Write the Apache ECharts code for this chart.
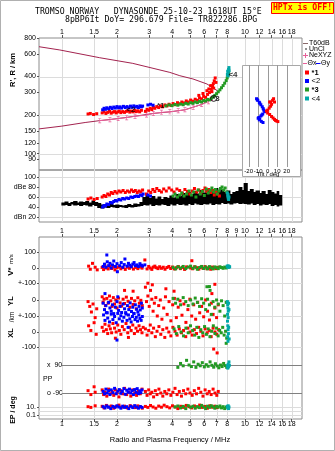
<!DOCTYPE html>
<html>
<head>
<meta charset="utf-8">
<title>Tromso Dynasonde ionogram</title>
<script src="https://cdn.jsdelivr.net/npm/echarts@6.0.0/dist/echarts.min.js"></script>
<style>
html, body { margin: 0; padding: 0; background: #fff; }
#chart { width: 335px; height: 451px; }
</style>
</head>
<body>
<div id="chart"></div>
<script>
const SANS = '"Liberation Sans", Arial, sans-serif';
const MONO = '"DejaVu Sans Mono", monospace';
const LOG = Math.log10;

const RED = '#ff0000', BLUE = '#0000ff', GREEN = '#229a22', CYAN = '#00a8a8';
const PINK = '#e8609a', MAROON = '#a3234f';
const GRID_LINE = '#dcdcdc', FRAME = '#8c8c8c', TICK = '#555';

// ---------- axis ranges and tick labels ----------
const freqRange = [0.75, 20.5];                       // MHz
const freqTicks = [1, 1.5, 2, 3, 4, 5, 6, 7, 8, 10, 12, 14, 16, 18];
const freqTicksMid = [1, 1.5, 2, 3, 4, 5, 6, 7, 8, 9, 10, 12, 14, 16, 18];
const heightRange = [74.5, 800];                      // km
const heightTicks = [80, 90, 100, 120, 150, 200, 300, 400, 600, 800];
const heightRules = [100, 200, 400];
const dbRange = [10, 114];
const dbTicks = [20, 40, 60, 80, 100];
const dbRules = [20, 60, 100];
const tiltRangeX = [-27, 34];
const tiltRangeY = [-54, 54];
const tiltTicks = [-20, -10, 0, 10, 20];
const vStarRange = [-974.2, 200];                     // m/s
const vStarTicks = [100, 0, -100];
const ylRange = [-743.75, 393.75];                    // km
const ylTicks = [0, -100];
const xlRange = [-561.3, 612.9];                      // km
const xlTicks = [0, -100];
const ppRange = [-257.1, 912.9];                      // deg
const ppRules = [90, -90];
const epRange = [-2, 43.5];                           // log10(deg)
const epTicks = [10, 0.1];
const epRules = [10, 1, 0.1];

// ---------- virtual height R' (km) vs frequency (MHz) ----------
const rRed = [
  [1.39,204],[1.43,206],[1.49,202],[1.55,205],
  [1.66,208],[1.70,212],[1.74,206],[1.78,210],[1.82,214],[1.86,207],[1.90,211],[1.94,213],[1.98,208],[2.02,212],
  [2.06,215],[2.10,209],[2.15,213],[2.20,210],[2.25,214],[2.30,216],[2.35,211],[2.40,215],[2.45,212],[2.50,217],
  [2.55,213],[2.60,216],[2.66,212],[2.72,218],
  [2.86,214],[2.92,222],[2.98,218],[3.04,226],[3.10,221],[3.16,230],[3.22,226],[3.30,233],[3.38,229],[3.46,236],
  [3.55,232],[3.65,240],[3.75,236],[3.85,243],[3.95,238],[4.05,246],[4.15,241],[4.28,250],[4.40,245],[4.52,253],
  [4.65,249],[4.78,258],[4.90,253],[5.05,262],[5.20,257],[5.35,266],[5.50,261],[5.60,285],[5.65,272],[5.80,268],
  [5.90,295],[5.95,280],[6.10,275],[6.20,310],[6.25,290],[6.35,320],[6.40,300],[6.50,340],[6.55,318],[6.60,305],
  [6.65,335],[6.72,352],[6.75,325],[6.80,370],[6.88,390],[6.95,360]
];
const rBlue = [
  [1.67,220],[1.70,226],[1.73,222],[1.76,228],[1.80,224],[1.84,230],[1.88,225],[1.92,231],[1.96,227],[2.00,233],
  [2.04,228],[2.08,232],[2.12,227],[2.17,234],[2.22,229],[2.27,233],[2.32,228],[2.37,235],[2.42,230],[2.47,236],
  [2.52,231],[2.57,234],[2.62,229],[2.67,236],[2.72,232],[2.76,235],[2.95,240],[3.05,243],[3.15,239]
];
const rGreen = [
  [3.70,236],[3.85,240],[4.00,237],[4.15,242],[4.30,239],[4.45,244],[4.60,241],[4.75,247],[4.90,244],[5.05,250],
  [5.20,247],[5.35,253],[5.50,250],[5.65,256],[5.80,253],[5.95,260],[6.10,258],[6.25,265],[6.40,263],[6.55,270],
  [6.70,277],[6.85,285],[7.00,294],[7.15,304],[7.30,315],[7.45,327],[7.60,340],[7.75,355],[7.90,372],[8.00,390],
  [8.08,408],[8.15,428]
];
const rCyan = [[8.02,415],[8.05,440],[8.10,425],[8.14,455],[8.18,470],[8.08,405],[8.20,445]];
const neXYZ = [
  [1.61,181],[1.83,184],[2.03,188],[2.26,191],[2.51,196],[2.90,200],[3.16,206],[3.50,210],[3.89,212],[4.32,216],
  [4.70,220],[5.21,230],[5.80,242],[6.32,254],[6.58,270]
];
const t60Upper = [[0.75,684],[0.975,645],[1.61,561],[2.44,507],[3.89,431],[4.41,406],[5.2,383],[6.2,350],[7.03,312],[7.1,300],[6.9,284],[6.6,270]];
const t60Lower = [[0.75,156],[1.0,164],[1.34,175],[1.61,181],[2.03,188],[2.51,196],[3.16,206],[3.89,212],[4.7,220],[5.8,242],[6.58,270]];
const modeTags = [['<2',2.38,220],['*1',3.47,236],['*3',6.95,266],['<4',8.6,411]];
const cuspRing = [[6.75,270]];

// ---------- echo tilt (deg) ----------
const tiltBlue = [
  [-11.7,18.3],[-10.9,17.1],[-10.4,16.6],[-8.8,14.5],[-8.3,13.5],[-7.2,11.9],[-5.7,9.8],[-4.7,7.8],[-4.1,6.2],
  [-3.1,4.5],[-5.2,2.1],[-6.2,1.0],[-7.2,0],[-9.3,-1.6],[-10.0,-2.4],[-8.3,-3.1],[-8.8,-4.1],[-6.7,-5.7],[-4.9,-6.9]
];
const tiltRed = [
  [6.2,18.3],[5.2,16.6],[2.1,14.8],[3.1,14.8],[7.2,14.8],[4.1,12.4],[3.1,10.4],[1.6,8.3],[0,6.2],[-1.3,5.2],
  [0,3.1],[2.1,1.6],[4.1,-0.5],[5.7,-2.1],[7.2,-3.6],[8.3,-4.7],[9.3,-5.2],[10.7,-5.9]
];

// ---------- echo amplitude (dB) ----------
const noiseBand = [ // [MHz, low dB, high dB]
  [1.00,43,49],[1.04,44,51],[1.08,42,48],[1.12,45,50],[1.16,43,52],[1.21,44,49],[1.25,42,51],[1.30,44,50],
  [1.35,43,52],[1.40,41,49],[1.46,44,53],[1.51,42,50],[1.57,38,48],[1.63,37,45],[1.70,39,46],[1.76,38,47],
  [1.83,40,48],[1.90,39,44],[1.97,38,45],[2.05,40,44],[2.13,39,43],[2.21,38,44],[2.29,40,46],[2.38,39,44],
  [2.47,40,47],[2.57,41,46],[2.67,42,50],[2.77,44,60],[2.88,43,64],[2.99,45,58],[3.10,42,62],[3.22,44,57],
  [3.35,43,61],[3.47,45,56],[3.61,44,60],[3.75,42,58],[3.89,45,63],[4.04,43,59],[4.20,46,66],[4.36,44,62],
  [4.53,45,68],[4.70,43,64],[4.88,46,70],[5.07,44,66],[5.26,47,72],[5.46,45,67],[5.67,44,74],[5.89,46,69],
  [6.12,45,76],[6.35,47,70],[6.60,44,73],[6.85,46,78],[7.11,45,71],[7.38,48,75],[7.67,46,70],[7.96,47,73],
  [8.28,45,66],[8.59,47,70],[8.93,48,72],[9.27,46,80],[9.63,47,74],[9.90,46,88],[10.3,45,72],[10.7,47,76],
  [11.1,44,70],[11.5,46,73],[12.0,43,68],[12.4,45,72],[12.9,44,66],[13.4,46,74],[13.9,42,70],[14.4,44,67],
  [15.0,41,72],[15.3,43,64]
];
const dbRed = [
  [1.39,56],[1.44,58],[1.50,55],[1.56,57],
  [1.66,60],[1.70,63],[1.74,61],[1.78,66],[1.82,64],[1.86,69],[1.90,67],[1.95,71],[2.00,68],[2.05,72],[2.10,70],
  [2.16,73],[2.22,69],[2.28,72],[2.34,70],[2.40,74],[2.46,71],[2.52,73],[2.58,69],[2.64,72],[2.70,70],[2.76,74],
  [2.90,66],[2.98,72],[3.06,69],[3.14,75],[3.22,71],[3.30,77],[3.40,73],[3.50,70],[3.60,76],[3.72,72],[3.85,78],
  [3.98,74],[4.10,70],[4.25,76],[4.40,73],[4.55,68],[4.70,75],[4.85,71],[5.00,66],[5.15,72],[5.30,77],[5.45,70],
  [5.60,74],[5.75,68],[5.90,73],[6.05,78],[6.20,71],[6.35,75],[6.50,69],[6.65,73],[6.80,64],[6.95,70],[7.10,66],[7.25,62]
];
const dbBlue = [
  [1.67,40],[1.70,43],[1.73,42],[1.76,46],[1.80,45],[1.84,49],[1.88,48],[1.92,51],[1.96,53],[2.00,52],[2.05,55],
  [2.10,54],[2.15,57],[2.20,56],[2.26,58],[2.32,57],[2.38,60],[2.44,59],[2.50,61],[2.56,62],[2.62,61],[2.68,64],
  [2.74,63],[2.78,66],[2.95,64],[3.05,62]
];
const dbGreen = [
  [4.05,62],[4.15,66],[4.28,60],[4.40,64],[4.52,68],[4.65,62],[4.80,66],[4.95,72],[5.10,64],[5.25,70],[5.40,60],
  [5.55,74],[5.70,66],[5.85,71],[6.00,63],[6.15,76],[6.30,68],[6.45,73],[6.60,78],[6.75,70],[6.90,75],[7.05,66],
  [7.20,72],[7.35,77],[7.50,80],[7.65,74],[7.80,78],[7.95,70]
];
const dbCyan = [[8.02,68],[8.06,62],[8.10,58],[8.14,55],[8.08,65],[8.18,60]];

// ---------- Doppler velocity V* (m/s) ----------
const vRed = [
  [1.40,12],[1.43,-8],[1.47,30],[1.52,5],[1.56,-12],
  [1.66,4],[1.69,-10],[1.72,14],[1.75,0],[1.79,-6],[1.83,10],[1.87,-3],[1.91,6],[1.95,-12],[2.00,2],[2.05,8],
  [2.10,-5],[2.16,3],[2.22,-9],[2.28,6],[2.34,-2],[2.40,9],[2.46,-7],[2.53,4],[2.60,-4],[2.67,7],[2.74,-1],
  [2.84,52],[2.92,-6],[2.98,10],[3.04,0],[3.10,-9],[3.16,6],[3.22,12],[3.28,2],[3.35,-4],[3.42,8],[3.50,-2],
  [3.58,5],[3.66,-8],[3.75,3],[3.84,10],[3.93,-3],[4.02,6],[4.12,-6],[4.22,2],[4.33,9],[4.44,-4],[4.56,4],
  [4.68,-9],[4.80,7],[5.13,47],[5.05,0],[5.18,-5],[5.31,8],[5.45,2],[5.60,-7],[5.75,5],[5.90,-2],[6.05,9],
  [6.20,-5],[6.35,3],[6.50,-8],[6.65,6],[6.80,0],[6.95,-4],[7.10,4]
];
const vBlue = [
  [1.68,10],[1.71,25],[1.74,5],[1.77,40],[1.80,15],[1.83,30],[1.86,0],[1.89,20],[1.92,45],[1.96,10],[2.00,28],
  [1.76,84],[2.07,15],[2.11,35],[2.15,5],[2.19,22],[2.21,58],[2.27,12],[2.31,30],[2.35,18],[2.39,8],[2.44,25],
  [2.48,35],[2.52,15],[2.57,20],[2.62,10],[2.67,28],[2.72,18],[2.76,12],[2.01,-24],[2.84,20]
];
const vGreen = [
  [4.05,4],[4.18,-6],[4.30,8],[4.45,0],[4.60,10],[4.75,-4],[4.90,6],[5.05,12],[5.20,-2],[5.35,7],[5.50,-8],
  [5.65,3],[5.80,10],[5.95,-3],[6.10,6],[6.25,-5],[6.40,9],[6.55,1],[6.70,-6],[6.85,7],[7.00,2],[7.15,-4],
  [7.30,8],[7.45,3],[7.60,-2],[7.75,6],[7.90,0]
];
const vCyan = [[8.00,12],[8.05,6],[8.10,14],[8.15,4],[8.20,10],[8.25,7]];

// ---------- echo location YL / XL (km) ----------
const ylRed = [
  [1.39,-10],[1.42,-40],[1.45,-75],[1.48,-25],[1.52,-110],[1.55,-55],
  [1.66,20],[1.68,-15],[1.70,5],[1.73,-35],[1.76,10],[1.79,-20],[1.82,25],[1.85,-5],[1.88,-40],[1.91,15],
  [1.94,-25],[1.97,0],[2.00,-50],[2.04,12],[2.08,-18],[2.12,-38],[2.16,5],[2.20,-22],[2.25,18],[2.30,-8],
  [2.35,-45],[2.40,10],[2.45,-28],[2.50,-5],[2.55,-55],[2.60,14],[2.65,-20],[2.70,-2],[2.75,-35],[2.20,60],[2.45,55],
  [2.86,80],[2.90,-10],[2.95,25],[3.00,-40],[3.05,60],[3.10,5],[3.15,-70],[3.20,-20],[3.26,15],[3.32,-100],
  [3.38,-35],[3.45,0],[3.52,-120],[3.60,-50],[3.68,20],[3.76,-90],[3.85,-10],[3.94,-130],[4.03,-30],[4.12,10],
  [4.22,-110],[4.32,-45],[4.42,-5],[4.53,-95],[4.64,-25],[4.76,-140],[4.88,-60],[5.00,5],[5.12,-100],[5.25,-30],
  [5.38,-120],[5.52,-15],[5.66,-80],[5.80,-40],[5.95,-105],[6.10,0],[6.25,-70],[6.40,-125],[6.55,-20],[6.70,-90],
  [6.85,-50],[7.00,-110],[7.15,-30],[3.12,95],[2.95,105],[3.70,70],[4.10,55],[6.60,40],[6.85,98]
];
const xlRed = [
  [1.40,40],[1.44,10],[1.50,60],[1.54,-15],
  [1.66,30],[1.69,5],[1.72,50],[1.75,15],[1.78,-10],[1.81,40],[1.84,20],[1.87,-5],[1.90,55],[1.94,25],[1.98,0],
  [2.02,45],[2.06,10],[2.10,-15],[2.14,35],[2.19,15],[2.24,55],[2.29,-5],[2.34,30],[2.39,10],[2.44,45],[2.49,-10],
  [2.54,25],[2.59,5],[2.64,40],[2.69,15],[2.74,-5],[2.78,30],[1.96,-40],[2.31,-35],
  [2.86,20],[2.92,-20],[2.98,10],[3.04,45],[3.10,-5],[3.17,25],[3.24,-30],[3.31,5],[3.39,35],[3.47,-15],[3.56,15],
  [3.65,-35],[3.74,25],[3.84,0],[3.94,-25],[4.04,30],[4.15,5],[4.26,-20],[4.38,20],[4.50,-5],[4.62,10],[4.75,-30],
  [4.88,25],[5.01,0],[5.15,-20],[5.29,15],[5.44,-10],[5.59,30],[5.74,5],[5.90,-25],[6.06,20],[6.22,-5],[6.38,10],
  [6.54,-30],[6.70,25],[6.86,0],[7.02,-15],[7.18,15],[6.75,-110],[7.05,-135]
];
const ylBlue = [
  [1.68,-20],[1.71,-60],[1.74,-35],[1.77,-80],[1.80,-15],[1.83,-50],[1.86,-70],[1.89,-30],[1.92,-85],[1.96,-45],
  [2.00,-10],[2.04,-65],[2.08,-40],[2.12,-78],[2.16,-25],[2.20,-55],[2.24,-88],[2.28,-35],[2.32,-60],[2.36,-18],
  [2.40,-72],[2.44,-45],[2.48,-85],[2.52,-30],[2.56,-58],[2.60,-75],[2.64,-40],[2.68,-62],[2.72,-20],[2.75,-50],
  [1.72,40],[2.02,20]
];
const xlBlue = [
  [1.69,110],[1.72,75],[1.75,125],[1.78,90],[1.82,65],[1.86,115],[1.90,80],[1.94,100],[1.98,60],[2.02,120],
  [2.06,85],[2.10,105],[2.14,70],[2.18,95],[2.23,125],[2.27,75],[2.31,110],[2.35,85],[2.39,65],[2.43,100],
  [2.47,120],[2.51,80],[2.55,95],[2.59,70],[2.63,110],[2.67,88],[2.71,75],[2.75,100],[2.00,-52],[2.30,30]
];
const ylGreen = [
  [4.05,10],[4.18,-20],[4.30,5],[4.45,-30],[4.60,15],[4.75,-10],[4.90,-35],[5.05,0],[5.20,-25],[5.35,12],
  [5.50,-15],[5.65,-40],[5.80,8],[5.95,-20],[6.10,-60],[6.25,5],[6.40,-30],[6.55,-90],[6.70,-10],[6.85,-45],
  [7.00,0],[7.15,-25],[7.30,-70],[7.45,-5],[7.60,-35],[7.75,-100],[7.90,-15],[6.20,83],[6.40,84],[6.45,60]
];
const xlGreen = [
  [4.10,20],[4.22,-10],[4.35,35],[4.48,0],[4.62,-25],[4.76,25],[4.90,-5],[5.04,40],[5.18,10],[5.32,-20],
  [5.46,30],[5.60,-35],[5.74,15],[5.88,-5],[6.02,35],[6.16,-15],[6.30,20],[6.44,-30],[6.58,5],[6.72,40],
  [6.86,-10],[7.00,25],[7.14,-25],[7.28,10],[7.42,-5],[7.56,30],[7.70,-20],[7.84,5],[7.95,-40],[7.90,-73]
];
const ylCyan = [[8.02,-10],[8.05,-30],[8.08,-50],[8.11,-70],[8.04,-90],[8.14,-20],[8.18,-60],[8.10,-110]];
const xlCyan = [[8.03,70],[8.06,40],[8.09,15],[8.12,-10],[8.05,-30],[8.15,30],[8.20,-45],[8.08,-60]];

// ---------- polarization PP (deg) ----------
const ppRed = [
  [1.39,-75],[1.44,-100],[1.52,-85],[1.50,-50],
  [1.66,-70],[1.69,-100],[1.72,-85],[1.76,-110],[1.80,-65],[1.84,-95],[1.88,-80],[1.92,-105],[1.96,-70],
  [2.00,-90],[2.05,-115],[2.10,-75],[2.15,-95],[2.20,-60],[2.26,-100],[2.32,-85],[2.38,-110],[2.44,-70],
  [2.50,-90],[2.56,-105],[2.62,-80],[2.68,-95],[2.74,-65],
  [2.86,-80],[2.92,-105],[2.98,-70],[3.04,-95],[3.10,-85],[3.17,-115],[3.24,-75],[3.31,-100],[3.39,-65],
  [3.47,-90],[3.56,-110],[3.65,-80],[3.74,-95],[3.84,-70],[3.94,-105],[4.04,-85],[4.15,-60],[4.26,-100],
  [4.38,-80],[4.50,-110],[4.62,-75],[4.75,-95],[4.88,-65],[5.01,-90],[5.15,-105],[5.29,-75],[5.44,-95],
  [5.59,-60],[5.74,-85],[5.90,-110],[6.06,-70],[6.22,-95],[6.38,-80],[6.54,-100],[6.70,-65],[6.86,-90],
  [7.02,-105],[7.15,-80]
];
const ppBlue = [
  [1.68,-80],[1.71,-95],[1.74,-65],[1.77,-90],[1.80,-75],[1.83,-100],[1.86,-70],[1.90,-88],[1.94,-60],[1.98,-95],
  [2.02,-78],[2.06,-68],[2.10,-92],[2.14,-80],[2.18,-62],[2.22,-98],[2.26,-72],[2.30,-85],[2.34,-65],[2.38,-90],
  [2.42,-75],[2.46,-100],[2.50,-68],[2.54,-86],[2.58,-62],[2.62,-94],[2.66,-76],[2.70,-88],[2.74,-70]
];
const ppGreen = [
  [4.30,75],[4.45,100],[4.60,85],[4.80,120],[4.95,90],[5.10,80],[5.25,110],[5.40,75],[5.55,95],[5.70,85],
  [5.85,105],[6.00,78],[6.15,92],[6.30,82],[6.45,110],[6.60,88],[6.75,76],[6.90,98],[7.05,84],[7.20,72],
  [7.35,90],[7.50,80],[7.65,100],[7.80,86],[7.95,75]
];
const ppCyan = [[8.02,85],[8.06,70],[8.10,95],[8.14,78],[8.18,110],[8.22,88]];

// ---------- EP (deg) ----------
const epRed = [
  [1.39,12],[1.44,8],[1.52,20],[1.66,15],[1.70,6],[1.75,25],[1.80,10],[1.86,18],[1.92,5],[1.98,14],[2.05,30],
  [2.12,9],[2.20,16],[2.28,6],[2.36,22],[2.44,11],[2.52,7],[2.60,19],[2.68,12],[2.75,5],[2.86,14],[2.95,8],
  [3.05,24],[3.15,10],[3.26,5],[3.38,17],[3.50,9],[3.62,28],[3.75,12],[3.88,6],[4.02,20],[4.16,10],[4.30,4],
  [4.46,15],[4.62,8],[4.78,25],[4.95,12],[5.12,6],[5.30,18],[5.48,10],[5.66,30],[5.85,8],[6.04,14],[6.24,5],
  [6.44,20],[6.64,9],[6.85,16],[7.05,7]
];
const epBlue = [
  [1.68,12],[1.72,6],[1.76,18],[1.80,9],[1.85,4],[1.90,14],[1.95,8],[2.00,20],[2.05,10],[2.10,5],[2.15,16],
  [2.20,8],[2.26,12],[2.32,4],[2.38,15],[2.44,7],[2.50,22],[2.56,10],[2.62,5],[2.68,13],[2.74,8]
];
const epGreen = [
  [4.15,10],[4.30,18],[4.45,6],[4.60,14],[4.75,4],[4.90,22],[5.05,9],[5.20,15],[5.35,5],[5.50,12],[5.65,7],
  [5.80,25],[5.95,10],[6.10,4],[6.25,16],[6.40,8],[6.55,20],[6.70,11],[6.85,5],[7.00,14],[7.15,9],[7.30,18],
  [7.45,6],[7.60,12],[7.75,4],[7.90,10]
];
const epCyan = [[8.02,14],[8.06,6],[8.10,20],[8.14,4],[8.18,10]];

// ---------- helpers ----------
const fmtFreq = v => String(Math.round(Math.pow(10, v) * 10) / 10);
const fmtHeight = v => String(Math.round(Math.pow(10, v)));
const pts = (data, fy) => data.map(d => [LOG(d[0]), fy ? fy(d[1]) : d[1]]);
const FREQ_EXT = [LOG(freqRange[0]), LOG(freqRange[1])];

function freqAxis(gridIndex, extra) {
  return Object.assign({
    type: 'value', gridIndex, min: FREQ_EXT[0], max: FREQ_EXT[1],
    axisLine: { show: false, onZero: false }, splitLine: { show: false },
    axisTick: { show: false }, axisLabel: { show: false }
  }, extra || {});
}
function freqTickAxis(gridIndex, position, ticks) {
  const vals = ticks.map(LOG);
  return freqAxis(gridIndex, {
    position,
    axisTick: { show: true, customValues: vals, length: 3, lineStyle: { color: TICK, width: 1 } },
    axisLabel: { show: true, customValues: vals, formatter: fmtFreq, fontSize: 7, color: '#000',
                 margin: 2, fontFamily: SANS, hideOverlap: false }
  });
}
function valAxis(gridIndex, range, ticks, fmt, extra) {
  const ax = {
    type: 'value', gridIndex, min: range[0], max: range[1], position: 'left',
    axisLine: { show: false, onZero: false }, splitLine: { show: false },
    axisTick: { show: false }, axisLabel: { show: false }
  };
  if (ticks) {
    ax.axisTick = { show: true, customValues: ticks, length: 2, lineStyle: { color: TICK, width: 1 } };
    ax.axisLabel = { show: true, customValues: ticks, formatter: fmt, fontSize: 7, color: '#000',
                     margin: 3, fontFamily: SANS, hideOverlap: false };
  }
  return Object.assign(ax, extra || {});
}
// vertical reference lines at given x values, spanning yExt
function vRules(xi, yi, xs, yExt, color, z) {
  return {
    type: 'custom', xAxisIndex: xi, yAxisIndex: yi, z: z || 1, silent: true,
    data: xs.map(v => [v, yExt[0]]), encode: { x: 0, y: 1 },
    renderItem: (params, api) => {
      const a = api.coord([api.value(0), yExt[0]]);
      const b = api.coord([api.value(0), yExt[1]]);
      const x = Math.round(a[0]) + 0.5;
      return { type: 'line', shape: { x1: x, y1: a[1], x2: x, y2: b[1] },
               style: { stroke: color || GRID_LINE, lineWidth: 1 } };
    }
  };
}
// horizontal reference lines at given y values, spanning xExt
function hRules(xi, yi, ys, xExt, color, z) {
  return {
    type: 'custom', xAxisIndex: xi, yAxisIndex: yi, z: z || 1, silent: true,
    data: ys.map(v => [xExt[0], v]), encode: { x: 0, y: 1 },
    renderItem: (params, api) => {
      const a = api.coord([xExt[0], api.value(1)]);
      const b = api.coord([xExt[1], api.value(1)]);
      const y = Math.round(a[1]) + 0.5;
      return { type: 'line', shape: { x1: a[0], y1: y, x2: b[0], y2: y },
               style: { stroke: color || GRID_LINE, lineWidth: 1 } };
    }
  };
}
function squares(data, xi, yi, color, z, size) {
  return {
    type: 'scatter', xAxisIndex: xi, yAxisIndex: yi, symbol: 'rect', symbolSize: size || 3,
    itemStyle: { color, opacity: 1 }, z: z || 4, silent: true, animation: false, data
  };
}
// frequency on x (log), optional transform on y
const dots = (data, xi, yi, color, fy) => squares(pts(data, fy), xi, yi, color);
function curve(data, color, z, extra) {
  return Object.assign({
    type: 'line', xAxisIndex: 0, yAxisIndex: 0, showSymbol: false, symbol: 'none', silent: true,
    lineStyle: { color, width: 1 }, itemStyle: { color }, z: z || 3,
    data: pts(data, LOG)
  }, extra || {});
}

const freqRuleVals = freqTicks.map(LOG);
const HEIGHT_EXT = [LOG(heightRange[0]), LOG(heightRange[1])];
const IBEAM = 'path://M0,0H5V1H3V6H5V7H0V6H2V1H0Z';

const chart = echarts.init(document.getElementById('chart'), null, { renderer: 'canvas', width: 335, height: 451 });

const option = {
  animation: false,
  backgroundColor: '#fff',
  textStyle: { fontFamily: SANS },
  grid: [
    { left: 39, top: 38, width: 263, height: 132, show: true, borderColor: FRAME, borderWidth: 1, backgroundColor: 'transparent', outerBoundsMode: 'none', containLabel: false },
    { left: 39, top: 170, width: 263, height: 52, show: true, borderColor: FRAME, borderWidth: 1, backgroundColor: 'transparent', outerBoundsMode: 'none', containLabel: false },
    { left: 242, top: 65, width: 58, height: 102, show: false, outerBoundsMode: 'none', containLabel: false },
    { left: 39, top: 237, width: 263, height: 182, show: true, borderColor: FRAME, borderWidth: 1, backgroundColor: 'transparent', outerBoundsMode: 'none', containLabel: false }
  ],
  xAxis: [
    freqTickAxis(0, 'top', freqTicks),
    freqAxis(1),
    {
      type: 'value', gridIndex: 2, min: tiltRangeX[0], max: tiltRangeX[1], position: 'bottom', z: 12,
      axisLine: { show: false, onZero: false }, splitLine: { show: false }, axisTick: { show: false },
      axisLabel: { show: true, customValues: tiltTicks, fontSize: 6, color: '#000', margin: 1, fontFamily: SANS, hideOverlap: false }
    },
    freqTickAxis(3, 'top', freqTicksMid),
    freqTickAxis(3, 'bottom', freqTicks)
  ],
  yAxis: [
    valAxis(0, HEIGHT_EXT, heightTicks.map(LOG), fmtHeight),
    valAxis(1, dbRange, dbTicks, v => v === 80 ? 'dBe 80' : v === 20 ? 'dBn 20' : String(v)),
    valAxis(2, tiltRangeY, null, null),
    valAxis(3, vStarRange, vStarTicks, v => v === -100 ? '+-100' : String(v)),
    valAxis(3, ylRange, ylTicks, v => v === -100 ? '+-100' : String(v)),
    valAxis(3, xlRange, xlTicks, v => String(v)),
    valAxis(3, ppRange, null, null),
    valAxis(3, epRange, epTicks.map(LOG), v => (v > 0.5 ? '10.' : '0.1'))
  ],
  series: [
    // reference lines
    vRules(0, 0, freqRuleVals, HEIGHT_EXT),
    hRules(0, 0, heightRules.map(LOG), FREQ_EXT),
    vRules(1, 1, freqRuleVals, dbRange),
    hRules(1, 1, dbRules, FREQ_EXT),
    vRules(4, 3, freqRuleVals, vStarRange),
    hRules(4, 3, vStarTicks, FREQ_EXT),
    hRules(4, 4, ylTicks, FREQ_EXT),
    hRules(4, 5, xlTicks, FREQ_EXT),
    hRules(4, 7, epRules.map(LOG), FREQ_EXT),
    hRules(4, 6, ppRules, [LOG(1), FREQ_EXT[1]], '#808080'),
    vRules(2, 2, tiltTicks, tiltRangeY, '#999', 11),

    // virtual height panel
    curve(t60Upper, MAROON, 3),
    curve(t60Lower, MAROON, 3),
    curve(neXYZ, PINK, 4, { showSymbol: true, symbol: IBEAM, symbolSize: [3, 5] }),
    dots(rRed, 0, 0, RED, LOG),
    dots(rBlue, 0, 0, BLUE, LOG),
    dots(rGreen, 0, 0, GREEN, LOG),
    dots(rCyan, 0, 0, CYAN, LOG),
    {
      type: 'scatter', xAxisIndex: 0, yAxisIndex: 0, z: 6, silent: true,
      symbol: 'circle', symbolSize: 6,
      itemStyle: { color: 'rgba(0,0,0,0)', borderColor: '#000', borderWidth: 1 },
      data: pts(cuspRing, LOG)
    },
    {
      type: 'scatter', xAxisIndex: 0, yAxisIndex: 0, z: 7, silent: true,
      symbolSize: 1, itemStyle: { color: 'rgba(0,0,0,0)' },
      label: { show: true, position: 'inside', formatter: '{b}', color: '#000', fontSize: 8,
               fontWeight: 'bold', fontFamily: SANS },
      data: modeTags.map(t => ({ name: t[0], value: [LOG(t[1]), LOG(t[2])] }))
    },

    // tilt inset (tilt values on both axes)
    squares(tiltBlue, 2, 2, BLUE, 12),
    squares(tiltRed, 2, 2, RED, 12),

    // amplitude panel: noise floor drawn as a band reaching to the next sample
    {
      type: 'custom', xAxisIndex: 1, yAxisIndex: 1, z: 3, silent: true,
      data: noiseBand.map(d => [LOG(d[0]), d[1], d[2]]),
      encode: { x: 0, y: [1, 2] },
      renderItem: (params, api) => {
        const i = params.dataIndex;
        const lo = api.coord([api.value(0), api.value(1)]);
        const hi = api.coord([api.value(0), api.value(2)]);
        const nx = i + 1 < noiseBand.length ? api.coord([LOG(noiseBand[i + 1][0]), api.value(1)])[0] : lo[0] + 3;
        return { type: 'rect', shape: { x: lo[0] - 0.5, y: hi[1], width: nx - lo[0] + 1, height: lo[1] - hi[1] },
                 style: { fill: '#000' } };
      }
    },
    dots(dbRed, 1, 1, RED),
    dots(dbBlue, 1, 1, BLUE),
    dots(dbGreen, 1, 1, GREEN),
    dots(dbCyan, 1, 1, CYAN),

    // V*, YL, XL, PP, EP panel
    dots(vRed, 4, 3, RED), dots(vBlue, 4, 3, BLUE), dots(vGreen, 4, 3, GREEN), dots(vCyan, 4, 3, CYAN),
    dots(ylRed, 4, 4, RED), dots(xlRed, 4, 5, RED),
    dots(ylBlue, 4, 4, BLUE), dots(xlBlue, 4, 5, BLUE),
    dots(ylGreen, 4, 4, GREEN), dots(xlGreen, 4, 5, GREEN),
    dots(ylCyan, 4, 4, CYAN), dots(xlCyan, 4, 5, CYAN),
    dots(ppRed, 4, 6, RED), dots(ppBlue, 4, 6, BLUE), dots(ppGreen, 4, 6, GREEN), dots(ppCyan, 4, 6, CYAN),
    dots(epRed, 4, 7, RED, LOG), dots(epBlue, 4, 7, BLUE, LOG), dots(epGreen, 4, 7, GREEN, LOG), dots(epCyan, 4, 7, CYAN, LOG)
  ],
  graphic: {
    elements: [
      { type: 'rect', shape: { x: 0.5, y: 0.5, width: 334, height: 450 }, style: { fill: 'none', stroke: '#b0b0b0', lineWidth: 1 }, z: 0, silent: true },
      // header
      { type: 'text', x: 35, y: 12.3, style: { text: 'TROMSO NORWAY   DYNASONDE 25-10-23 1618UT 15\u00b0E', font: '8.2px ' + MONO, fill: '#000', verticalAlign: 'middle' }, silent: true },
      { type: 'text', x: 65, y: 20, style: { text: '8pBP6It DoY= 296.679 File= TR822286.BPG', font: '8.2px ' + MONO, fill: '#000', verticalAlign: 'middle' }, silent: true },
      { type: 'rect', shape: { x: 271.5, y: 2.5, width: 62, height: 11 }, style: { fill: '#ffff00', stroke: '#ff0000', lineWidth: 1 }, silent: true },
      { type: 'text', x: 302.5, y: 8.2, style: { text: 'HPTx is OFF!', font: 'bold 8.2px ' + MONO, fill: '#ff0000', align: 'center', verticalAlign: 'middle' }, silent: true },

      // axis titles
      { type: 'text', x: 13, y: 70, rotation: Math.PI / 2, style: { text: "R', R / km", font: 'bold 7.5px ' + SANS, fill: '#000', align: 'center', verticalAlign: 'middle' }, silent: true },
      { type: 'text', x: 11, y: 265, rotation: Math.PI / 2, style: { text: '{b|V*} {s|m/s}', rich: { b: { font: 'bold 8px ' + SANS, fill: '#000' }, s: { font: '6px ' + SANS, fill: '#000' } }, align: 'center', verticalAlign: 'middle' }, silent: true },
      { type: 'text', x: 11, y: 301, rotation: Math.PI / 2, style: { text: 'YL', font: 'bold 7.5px ' + SANS, fill: '#000', align: 'center', verticalAlign: 'middle' }, silent: true },
      { type: 'text', x: 12, y: 317, rotation: Math.PI / 2, style: { text: '/km', font: '6.5px ' + SANS, fill: '#000', align: 'center', verticalAlign: 'middle' }, silent: true },
      { type: 'text', x: 11, y: 333, rotation: Math.PI / 2, style: { text: 'XL', font: 'bold 7.5px ' + SANS, fill: '#000', align: 'center', verticalAlign: 'middle' }, silent: true },
      { type: 'text', x: 13, y: 410, rotation: Math.PI / 2, style: { text: 'EP / deg', font: 'bold 7px ' + SANS, fill: '#000', align: 'center', verticalAlign: 'middle' }, silent: true },
      { type: 'text', x: 43, y: 379.5, style: { text: 'PP', font: '7px ' + SANS, fill: '#000', verticalAlign: 'middle' }, silent: true },
      { type: 'text', x: 47, y: 365, style: { text: 'x  90', font: '7px ' + SANS, fill: '#000', verticalAlign: 'middle' }, silent: true },
      { type: 'text', x: 47, y: 393, style: { text: 'o -90', font: '7px ' + SANS, fill: '#000', verticalAlign: 'middle' }, silent: true },
      { type: 'text', x: 170, y: 439.5, style: { text: 'Radio and Plasma Frequency / MHz', font: '7.5px ' + SANS, fill: '#000', align: 'center', verticalAlign: 'middle' }, silent: true },

      // tilt inset frame
      { type: 'rect', shape: { x: 242.5, y: 65.5, width: 58, height: 111 }, style: { fill: '#fff', stroke: '#a8a8a8', lineWidth: 1 }, z: 10, silent: true },
      { type: 'text', x: 268, y: 174.5, style: { text: 'Tilt / deg', font: '6px ' + SANS, fill: '#000', align: 'center', verticalAlign: 'middle' }, z: 12, silent: true },

      // key
      { type: 'line', shape: { x1: 303, y1: 43.5, x2: 308, y2: 43.5 }, style: { stroke: '#8a6a6a', lineWidth: 1 }, silent: true },
      { type: 'text', x: 309, y: 43.5, style: { text: 'T60dB', font: '7px ' + SANS, fill: '#000', verticalAlign: 'middle' }, silent: true },
      { type: 'circle', shape: { cx: 306, cy: 49, r: 0.8 }, style: { fill: '#000' }, silent: true },
      { type: 'text', x: 309, y: 49, style: { text: 'UnCl', font: '7px ' + SANS, fill: '#000', verticalAlign: 'middle' }, silent: true },
      { type: 'line', shape: { x1: 303, y1: 55.5, x2: 308, y2: 55.5 }, style: { stroke: PINK, lineWidth: 1 }, silent: true },
      { type: 'line', shape: { x1: 305.5, y1: 53, x2: 305.5, y2: 58 }, style: { stroke: PINK, lineWidth: 1 }, silent: true },
      { type: 'text', x: 309, y: 55.5, style: { text: 'NeXYZ', font: '7px ' + SANS, fill: '#000', verticalAlign: 'middle' }, silent: true },
      { type: 'line', shape: { x1: 303, y1: 63.5, x2: 307, y2: 63.5 }, style: { stroke: PINK, lineWidth: 1 }, silent: true },
      { type: 'text', x: 307.5, y: 63.5, style: { text: '\u0398x', font: '7px ' + SANS, fill: '#000', verticalAlign: 'middle' }, silent: true },
      { type: 'line', shape: { x1: 316, y1: 63.5, x2: 320.5, y2: 63.5 }, style: { stroke: BLUE, lineWidth: 1 }, silent: true },
      { type: 'text', x: 321, y: 63.5, style: { text: '\u0398y', font: '7px ' + SANS, fill: '#000', verticalAlign: 'middle' }, silent: true },
      { type: 'rect', shape: { x: 305, y: 70.5, width: 4, height: 4 }, style: { fill: RED }, silent: true },
      { type: 'text', x: 311.5, y: 72.8, style: { text: '*1', font: 'bold 7.5px ' + SANS, fill: '#000', verticalAlign: 'middle' }, silent: true },
      { type: 'rect', shape: { x: 305, y: 79, width: 4, height: 4 }, style: { fill: BLUE }, silent: true },
      { type: 'text', x: 311.5, y: 81.2, style: { text: '<2', font: '7.5px ' + SANS, fill: '#000', verticalAlign: 'middle' }, silent: true },
      { type: 'rect', shape: { x: 305, y: 87.5, width: 4, height: 4 }, style: { fill: GREEN }, silent: true },
      { type: 'text', x: 311.5, y: 89.8, style: { text: '*3', font: 'bold 7.5px ' + SANS, fill: '#000', verticalAlign: 'middle' }, silent: true },
      { type: 'rect', shape: { x: 305, y: 96.5, width: 4, height: 4 }, style: { fill: CYAN }, silent: true },
      { type: 'text', x: 311.5, y: 98.7, style: { text: '<4', font: '7.5px ' + SANS, fill: '#000', verticalAlign: 'middle' }, silent: true }
    ]
  }
};

chart.setOption(option);
</script>
</body>
</html>
